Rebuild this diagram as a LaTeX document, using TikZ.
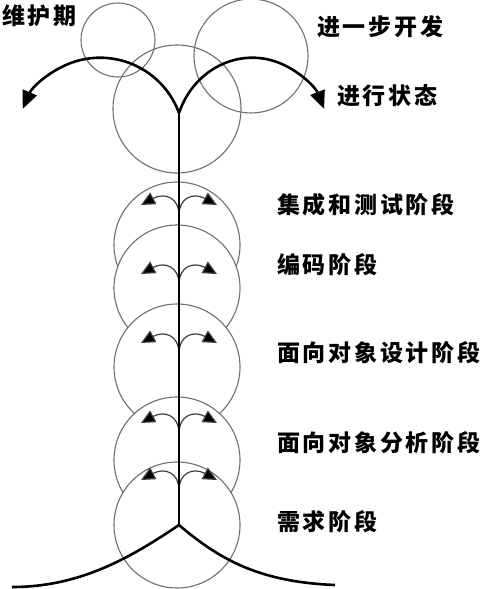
\documentclass[tikz,border=0pt]{standalone}
\usepackage{fontspec}
\newfontfamily\cjk[LetterSpace=12]{Noto Sans CJK SC}
\usetikzlibrary{arrows.meta}
\definecolor{ringgray}{HTML}{707070}
\definecolor{branchgray}{HTML}{404040}
\begin{document}
\begin{tikzpicture}[x=1pt,y=1pt,
  ring/.style={draw=ringgray, line width=1.1pt, circle, inner sep=0pt},
  stagering/.style={ring, fill=white, minimum size=126pt},
  trunk/.style={line width=2pt, black},
  limb/.style={line width=2.6pt, black},
  bigarrow/.style={limb, -{Triangle[length=18pt,width=15pt]}},
  smallarrow/.style={line width=1.2pt, draw=branchgray, -{Triangle[length=14pt,width=13pt,fill=black]}},
  lbl/.style={anchor=west, inner sep=0pt, font={\fontsize{23pt}{23pt}\cjk\bfseries}}]
\useasboundingbox[fill=white] (0,0) rectangle (497,-589);

% top circles (outlines only)
\node[ring, minimum size=74pt]  (tl) at (118,-40) {};
\node[ring, minimum size=114pt] (tr) at (251,-56) {};
\node[ring, minimum size=128pt] (tc) at (177,-109) {};

% stage circles with their forks
\foreach \n/\cy/\fy in {A/245/215, B/288/284, C/367/353, D/460/433, E/525/490}{
  \node[stagering] (c\n) at (177,-\cy) {};
  \coordinate (f\n) at (179,-\fy);
  \coordinate (l\n) at (141,-\fy+10);
  \coordinate (r\n) at (217,-\fy+10);
  \draw[smallarrow] (f\n) .. controls (179,-\fy+17) and (165,-\fy+23) .. (l\n);
  \draw[smallarrow] (f\n) .. controls (179,-\fy+17) and (193,-\fy+23) .. (r\n);
}

% main trunk
\coordinate (top) at (179,-113);
\coordinate (bot) at (179,-525);
\draw[trunk] (top) -- (bot);

% top branches
\draw[bigarrow] (top) arc[start angle=20, end angle=157, radius=84];
\draw[bigarrow] (top) arc[start angle=160, end angle=23, x radius=78, y radius=84];

% bottom branches
\coordinate (ll) at (12,-587);
\coordinate (rr) at (335,-585);
\draw[limb] (bot) .. controls (130,-558) and (80,-587) .. (ll);
\draw[limb] (bot) .. controls (220,-560) and (260,-582) .. (rr);

% labels
\node[lbl] (t1) at (2,-16) {维护期};
\node[lbl] (t2) at (317,-27) {进一步开发};
\node[lbl] (t3) at (337,-96) {进行状态};
\node[lbl] (t4) at (277,-205) {集成和测试阶段};
\node[lbl] (t5) at (277,-265) {编码阶段};
\node[lbl] (t6) at (277,-353) {面向对象设计阶段};
\node[lbl] (t7) at (277,-443) {面向对象分析阶段};
\node[lbl] (t8) at (277,-522) {需求阶段};
\end{tikzpicture}
\end{document}
